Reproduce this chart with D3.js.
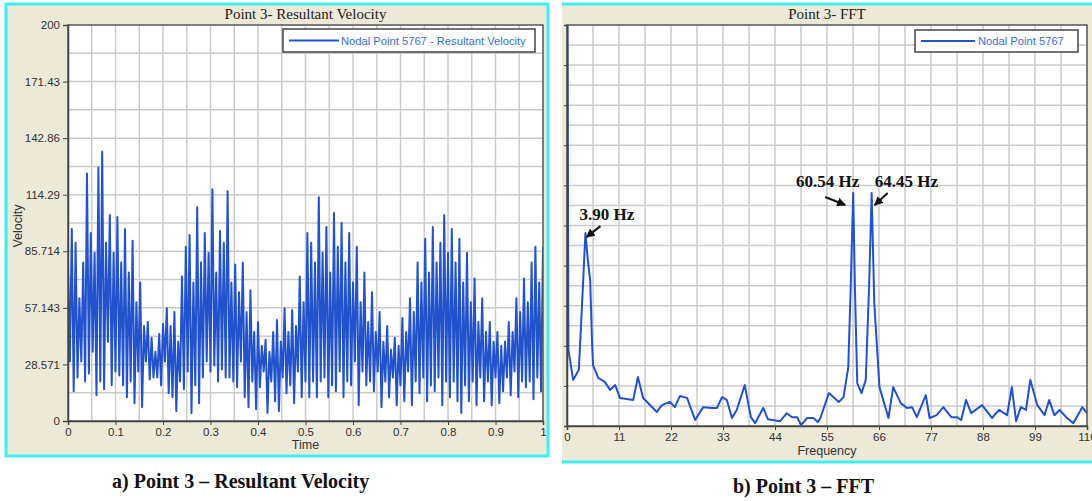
<!DOCTYPE html>
<html>
<head>
<meta charset="utf-8">
<script src="https://cdn.jsdelivr.net/npm/d3@7"></script>
<style>
  body { margin: 0; background: #fff; }
  svg { display: block; }
</style>
</head>
<body>
<svg id="chart" width="1092" height="501"></svg>
<script>
// ---- data ----
// velocity trace, one sample every 4 ms from t = 0 to 1 s
const velStep = 0.004
const velValue = [
  78, 30, 97, 15, 90, 22, 62, 30, 80, 20,
  125, 24, 95, 35, 85, 13, 128, 20, 136, 16,
  90, 40, 104, 18, 85, 25, 103, 23, 80, 18,
  97, 12, 75, 20, 91, 9, 60, 25, 70, 7,
  48, 30, 50, 21, 42, 22, 35, 22, 44, 18,
  49, 30, 57, 14, 48, 12, 55, 5, 40, 20,
  73, 16, 88, 25, 94, 4, 70, 18, 108, 9,
  80, 22, 95, 30, 85, 25, 117, 28, 75, 20,
  96, 26, 90, 22, 116, 22, 70, 20, 79, 17,
  65, 30, 80, 12, 55, 7, 66, 20, 45, 6,
  50, 17, 38, 25, 41, 4, 35, 20, 45, 10,
  51, 5, 40, 22, 57, 14, 45, 18, 56, 9,
  48, 25, 73, 12, 60, 20, 95, 12, 90, 20,
  80, 12, 113, 20, 85, 22, 98, 12, 75, 18,
  105, 15, 88, 25, 100, 12, 80, 20, 95, 18,
  70, 30, 88, 8, 60, 25, 75, 18, 50, 20,
  65, 15, 45, 25, 55, 7, 40, 20, 48, 12,
  36, 22, 42, 8, 38, 18, 52, 10, 45, 25,
  62, 8, 55, 20, 80, 14, 70, 22, 92, 10,
  75, 18, 98, 15, 80, 22, 90, 8, 104, 20,
  85, 12, 97, 20, 80, 10, 92, 4, 70, 18,
  85, 10, 60, 20, 72, 8, 50, 22, 62, 10,
  45, 20, 50, 8, 40, 22, 45, 9, 38, 15,
  40, 22, 50, 13, 45, 25, 62, 12, 55, 20,
  72, 17, 60, 20, 80, 11, 88, 22, 70, 15,
  88]
const velTicks = ['0', '28.571', '57.143', '85.714', '114.29', '142.86', '171.43', '200']
const timeTicks = ['0', '0.1', '0.2', '0.3', '0.4', '0.5', '0.6', '0.7', '0.8', '0.9', '1']

// FFT spectrum (Hz, amplitude in arbitrary units, the axis has no labels)
const fftFreq = [0, 0.3, 1.3, 2.5, 3.2, 3.9, 4.4, 4.9, 5.3, 5.5, 6.6, 8.0, 9.1, 10.2, 11.2, 14.0, 15.0,
  16.1, 19.0, 20.1, 21.8, 22.8, 23.9, 25.4, 27.1, 28.8, 30.7, 31.7, 32.8, 33.8, 34.9, 35.9, 37.6, 38.9,
  39.8, 41.5, 42.5, 45.1, 46.5, 47.6, 48.7, 49.5, 50.8, 52.1, 53.1, 53.6, 55.4, 57.5, 58.5, 59.5, 60.0,
  60.54, 60.9, 61.4, 62.3, 63.2, 63.9, 64.45, 65.0, 66.1, 68.0, 69.0, 70.6, 71.9, 73.0, 74.0, 75.9, 76.7,
  78.2, 79.6, 81.3, 82.5, 83.4, 84.4, 85.5, 87.8, 89.9, 91.4, 93.1, 94.1, 95.0, 96.0, 97.1, 98.0, 99.5,
  101.0, 102.0, 103.1, 104.2, 105.6, 107.1, 109.0, 110]
const fftAmp = [150, 19, 11.5, 14, 30.7, 48.1, 41.5, 36.4, 20.7, 15.2, 12, 11, 9, 10.2, 7, 6.5, 12.2,
  7, 3.5, 5.2, 6, 4.7, 7.5, 7, 1.5, 4.7, 4.5, 4.5, 7.2, 6.5, 2, 4, 10.2, 2.2,
  0.7, 4.5, 1.7, 1.2, 3.2, 2.2, 2.2, 0.2, 2, 2, 1, 2, 8.2, 6, 7.2, 14.7, 34,
  58.1, 34.7, 10.7, 8.2, 11.5, 34.7, 58.1, 30.7, 9.7, 2, 9.7, 5.7, 4.5, 4.7, 2.2, 7.7, 2,
  2.7, 4.7, 2.2, 2.2, 1.5, 6.5, 3.2, 5.2, 2, 4, 2.7, 9.7, 1.2, 4.7, 4, 11.5, 5.2,
  2.7, 6.5, 2.7, 4, 2.2, 0.7, 4.7, 3.2]
const freqTicks = [0, 11, 22, 33, 44, 55, 66, 77, 88, 99, 110]
const peakFreq = [3.90, 60.54, 64.45]
const peakText = ['3.90 Hz', '60.54 Hz', '64.45 Hz']

const svg = d3.select('#chart')
svg.append('rect').attr('width', 1092).attr('height', 501).attr('fill', '#fff')

const beige = '#ece9d8'
const cyan = '#3ef0f0'
const gridColor = '#cbcbcb'
const lineBlue = '#2253cc'
const labelFont = '"Liberation Sans", Arial, sans-serif'
const serif = '"Liberation Serif", "Times New Roman", serif'

// ================= left panel : resultant velocity =================
const L = { left: 68, right: 543, top: 25, bottom: 421 }

svg.append('rect')
    .attr('x', 6).attr('y', 4).attr('width', 542).attr('height', 452)
    .attr('fill', beige).attr('stroke', cyan).attr('stroke-width', 3)

const xTime = d3.scaleLinear().domain([0, 1]).range([L.left, L.right])
const yVel = d3.scaleLinear().domain([0, 200]).range([L.bottom, L.top])

const left = svg.append('g')

left.append('rect')
    .attr('x', L.left).attr('y', L.top)
    .attr('width', L.right - L.left).attr('height', L.bottom - L.top)
    .attr('fill', '#fff')

// grid, half steps between ticks
left.append('g').selectAll('line')
    .data(d3.range(1, 20).map(i => i * 0.05))
    .join('line')
    .attr('x1', d => xTime(d)).attr('x2', d => xTime(d))
    .attr('y1', L.top).attr('y2', L.bottom)
    .attr('stroke', gridColor).attr('stroke-width', 1.5)
left.append('g').selectAll('line')
    .data(d3.range(1, 14).map(i => i * 200 / 14))
    .join('line')
    .attr('y1', d => yVel(d)).attr('y2', d => yVel(d))
    .attr('x1', L.left).attr('x2', L.right)
    .attr('stroke', gridColor).attr('stroke-width', 1.5)

left.append('clipPath').attr('id', 'clipL')
    .append('rect')
    .attr('x', L.left).attr('y', L.top)
    .attr('width', L.right - L.left).attr('height', L.bottom - L.top)

const velLine = d3.line()
    .x((d, i) => xTime(i * velStep))
    .y(d => yVel(d))

left.append('path')
    .datum(velValue)
    .attr('clip-path', 'url(#clipL)')
    .attr('d', velLine)
    .attr('fill', 'none')
    .attr('stroke', lineBlue)
    .attr('stroke-width', 2)
    .attr('stroke-linejoin', 'round')

left.append('rect')
    .attr('x', L.left).attr('y', L.top)
    .attr('width', L.right - L.left).attr('height', L.bottom - L.top)
    .attr('fill', 'none').attr('stroke', '#555').attr('stroke-width', 1.5)

// axes
const yAxisL = d3.axisLeft(yVel)
    .tickValues(velTicks.map(Number))
    .tickFormat((d, i) => velTicks[i])
    .tickSize(5)
const xAxisL = d3.axisBottom(xTime)
    .tickValues(timeTicks.map(Number))
    .tickFormat((d, i) => timeTicks[i])
    .tickSize(4)

left.append('g').attr('transform', `translate(${L.left},0)`).call(yAxisL)
left.append('g').attr('transform', `translate(0,${L.bottom})`).call(xAxisL)

left.selectAll('.domain').attr('stroke', '#444').attr('stroke-width', 1.5)
left.selectAll('.tick line').attr('stroke', '#444')
left.selectAll('.tick text')
    .attr('font-family', labelFont).attr('font-size', 11.5).attr('fill', '#333')

left.append('text')
    .attr('x', (L.left + L.right) / 2).attr('y', 19)
    .attr('text-anchor', 'middle')
    .attr('font-family', serif).attr('font-size', 15).attr('fill', '#222')
    .text('Point 3- Resultant Velocity')

left.append('text')
    .attr('transform', `translate(22,${(L.top + L.bottom) / 2 + 3}) rotate(-90)`)
    .attr('text-anchor', 'middle')
    .attr('font-family', labelFont).attr('font-size', 12.5).attr('fill', '#333')
    .text('Velocity')

left.append('text')
    .attr('x', (L.left + L.right) / 2).attr('y', 449)
    .attr('text-anchor', 'middle')
    .attr('font-family', labelFont).attr('font-size', 12.5).attr('fill', '#333')
    .text('Time')

// legend
const legL = left.append('g').attr('transform', 'translate(283,29)')
legL.append('rect').attr('width', 252).attr('height', 23)
    .attr('fill', '#fff').attr('stroke', '#444').attr('stroke-width', 1.5)
legL.append('line').attr('x1', 6).attr('x2', 56).attr('y1', 11.5).attr('y2', 11.5)
    .attr('stroke', lineBlue).attr('stroke-width', 1.8)
legL.append('text').attr('x', 58).attr('y', 15.5)
    .attr('font-family', labelFont).attr('font-size', 11.2).attr('fill', '#3b6fd6')
    .text('Nodal Point 5767 - Resultant Velocity')

// ================= right panel : FFT =================
const R = { left: 567, right: 1087, top: 25, bottom: 426 }

svg.append('rect')
    .attr('x', 562).attr('y', 4).attr('width', 530).attr('height', 458)
    .attr('fill', beige)
svg.append('line').attr('x1', 562).attr('x2', 1092).attr('y1', 4).attr('y2', 4)
    .attr('stroke', cyan).attr('stroke-width', 3)
svg.append('line').attr('x1', 562).attr('x2', 1092).attr('y1', 462).attr('y2', 462)
    .attr('stroke', cyan).attr('stroke-width', 3)

const xFreq = d3.scaleLinear().domain([0, 110]).range([R.left, R.right])
const yAmp = d3.scaleLinear().domain([0, 100]).range([R.bottom, R.top])

svg.append('clipPath').attr('id', 'clipPanelR')
    .append('rect').attr('x', 564).attr('y', 0).attr('width', 528).attr('height', 501)

const right = svg.append('g').attr('clip-path', 'url(#clipPanelR)')

right.append('rect')
    .attr('x', R.left).attr('y', R.top)
    .attr('width', R.right - R.left).attr('height', R.bottom - R.top)
    .attr('fill', '#fff')

right.append('g').selectAll('line')
    .data(d3.range(1, 20).map(i => i * 5.5))
    .join('line')
    .attr('x1', d => xFreq(d)).attr('x2', d => xFreq(d))
    .attr('y1', R.top).attr('y2', R.bottom)
    .attr('stroke', gridColor).attr('stroke-width', 1.5)
right.append('g').selectAll('line')
    .data(d3.range(1, 20).map(i => i * 5))
    .join('line')
    .attr('y1', d => yAmp(d)).attr('y2', d => yAmp(d))
    .attr('x1', R.left).attr('x2', R.right)
    .attr('stroke', gridColor).attr('stroke-width', 1.5)

right.append('clipPath').attr('id', 'clipR')
    .append('rect')
    .attr('x', R.left).attr('y', R.top)
    .attr('width', R.right - R.left).attr('height', R.bottom - R.top)

const fftLine = d3.line()
    .x((d, i) => xFreq(fftFreq[i]))
    .y(d => yAmp(d))

right.append('path')
    .datum(fftAmp)
    .attr('clip-path', 'url(#clipR)')
    .attr('d', fftLine)
    .attr('fill', 'none')
    .attr('stroke', lineBlue)
    .attr('stroke-width', 2)
    .attr('stroke-linejoin', 'round')

right.append('rect')
    .attr('x', R.left).attr('y', R.top)
    .attr('width', R.right - R.left).attr('height', R.bottom - R.top)
    .attr('fill', 'none').attr('stroke', '#555').attr('stroke-width', 1.5)

const xAxisR = d3.axisBottom(xFreq).tickValues(freqTicks).tickSize(4)
const yAxisR = d3.axisLeft(yAmp).tickValues(d3.range(0, 101, 10)).tickFormat('').tickSize(3)

right.append('g').attr('transform', `translate(0,${R.bottom})`).call(xAxisR)
right.append('g').attr('transform', `translate(${R.left},0)`).call(yAxisR)
right.selectAll('.domain').attr('stroke', '#444').attr('stroke-width', 1.5)
right.selectAll('.tick line').attr('stroke', '#444')
right.selectAll('.tick text')
    .attr('font-family', labelFont).attr('font-size', 11.5).attr('fill', '#333')

right.append('text')
    .attr('x', (R.left + R.right) / 2).attr('y', 19)
    .attr('text-anchor', 'middle')
    .attr('font-family', serif).attr('font-size', 15).attr('fill', '#222')
    .text('Point 3- FFT')

right.append('text')
    .attr('x', (R.left + R.right) / 2).attr('y', 455)
    .attr('text-anchor', 'middle')
    .attr('font-family', labelFont).attr('font-size', 12.5).attr('fill', '#333')
    .text('Frequency')

const legR = right.append('g').attr('transform', 'translate(915,30)')
legR.append('rect').attr('width', 163).attr('height', 22)
    .attr('fill', '#fff').attr('stroke', '#444').attr('stroke-width', 1.5)
legR.append('line').attr('x1', 6).attr('x2', 60).attr('y1', 11).attr('y2', 11)
    .attr('stroke', lineBlue).attr('stroke-width', 1.8)
legR.append('text').attr('x', 63).attr('y', 15)
    .attr('font-family', labelFont).attr('font-size', 11.2).attr('fill', '#3b6fd6')
    .text('Nodal Point 5767')

// peak annotations with arrows
svg.append('defs').append('marker')
    .attr('id', 'arrow')
    .attr('viewBox', '0 0 10 10')
    .attr('refX', 9).attr('refY', 5)
    .attr('markerWidth', 4.5).attr('markerHeight', 4.5)
    .attr('orient', 'auto')
    .append('path').attr('d', 'M0,0 L10,5 L0,10 z').attr('fill', '#111')

// offsets of label and arrow relative to the peak point
const annot = [
  { dx: -6, dy: -13, anchor: 'start', tail: [15, -7], head: [1, 4] },
  { dx: 6, dy: -6, anchor: 'end', tail: [-28, 4], head: [-8, 12] },
  { dx: 3, dy: -6, anchor: 'start', tail: [16, 0], head: [3, 12] }
]

peakFreq.forEach((f, i) => {
  const k = fftFreq.indexOf(f)
  const px = xFreq(f)
  const py = yAmp(fftAmp[k])
  const a = annot[i]
  svg.append('line')
      .attr('x1', px + a.tail[0]).attr('y1', py + a.tail[1])
      .attr('x2', px + a.head[0]).attr('y2', py + a.head[1])
      .attr('stroke', '#111').attr('stroke-width', 2)
      .attr('marker-end', 'url(#arrow)')
  svg.append('text')
      .attr('x', px + a.dx).attr('y', py + a.dy)
      .attr('text-anchor', a.anchor)
      .attr('font-family', serif).attr('font-weight', 'bold')
      .attr('font-size', 17).attr('fill', '#111')
      .text(peakText[i])
})

// captions under the panels
svg.append('text')
    .attr('x', 112).attr('y', 488)
    .attr('font-family', serif).attr('font-weight', 'bold')
    .attr('font-size', 20).attr('fill', '#111')
    .text('a) Point 3 – Resultant Velocity')
svg.append('text')
    .attr('x', 733).attr('y', 493)
    .attr('font-family', serif).attr('font-weight', 'bold')
    .attr('font-size', 20).attr('fill', '#111')
    .text('b) Point 3 – FFT')
</script>
</body>
</html>
